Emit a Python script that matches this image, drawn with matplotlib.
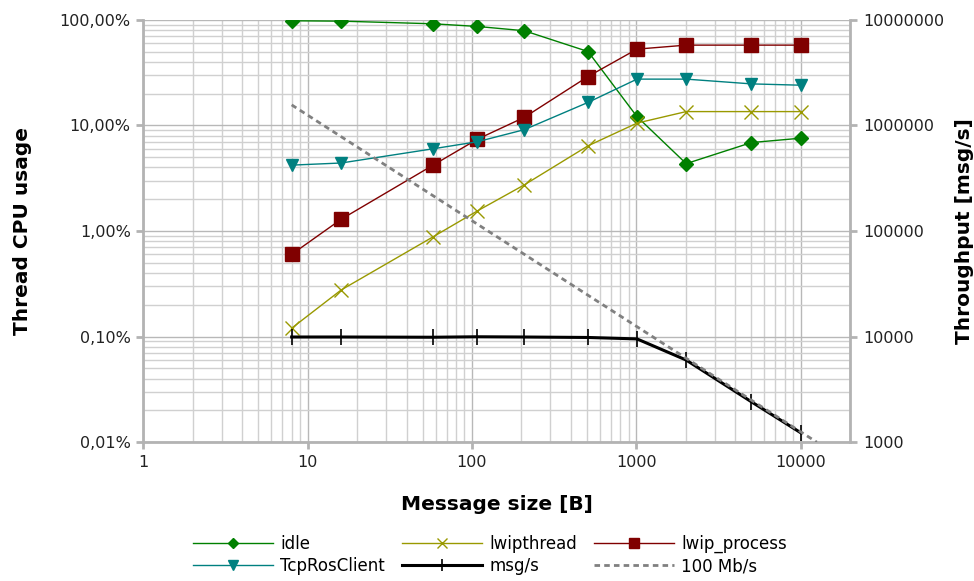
import matplotlib
matplotlib.use('Agg')
import matplotlib.pyplot as plt
from matplotlib.ticker import FuncFormatter, LogLocator, NullFormatter

# message size [B]
sizes = [8, 16, 58, 108, 208, 508, 1008, 2008, 5008, 10008]

# thread CPU usage [%]
idle = [97.8, 97.0, 91.6, 86.4, 78.7, 50.0, 12.1, 4.34, 6.87, 7.56]
lwipthread = [0.12, 0.276, 0.88, 1.55, 2.73, 6.4, 10.5, 13.5, 13.5, 13.5]
lwip_process = [0.60, 1.29, 4.2, 7.4, 11.9, 29.0, 52.7, 57.5, 57.5, 57.5]
tcp_ros_client = [4.2, 4.4, 6.0, 7.0, 9.1, 16.5, 27.4, 27.4, 24.7, 24.0]

# throughput [msg/s]
msgs = [9900, 9900, 9850, 9950, 9900, 9800, 9500, 5990, 2410, 1225]
limit_x = [8, 12500]
limit_y = [1562500, 1000]

GRID_MAJOR = '#b8b8b8'
GRID_MINOR = '#d0d0d0'
SPINE = '#b3b3b3'


def pct(v, pos):
    return ('%.2f%%' % v).replace('.', ',')


def main():
    plt.rcParams['font.family'] = 'DejaVu Sans'
    fig = plt.figure(figsize=(9.74, 5.81), dpi=100)
    ax = fig.add_axes([0.147, 0.239, 0.726, 0.727])
    ax2 = ax.twinx()

    ax.set_xscale('log')
    ax.set_yscale('log')
    ax2.set_yscale('log')
    ax.set_xlim(1, 20000)
    ax.set_ylim(0.01, 100)
    ax2.set_ylim(1000, 10000000)

    ax.xaxis.set_major_locator(LogLocator(base=10, numticks=10))
    ax.xaxis.set_minor_locator(LogLocator(base=10, subs=range(2, 10), numticks=20))
    ax.xaxis.set_major_formatter(FuncFormatter(lambda v, p: '%d' % v))
    ax.xaxis.set_minor_formatter(NullFormatter())
    ax.yaxis.set_major_locator(LogLocator(base=10, numticks=10))
    ax.yaxis.set_minor_locator(LogLocator(base=10, subs=range(2, 10), numticks=20))
    ax.yaxis.set_major_formatter(FuncFormatter(pct))
    ax.yaxis.set_minor_formatter(NullFormatter())
    ax2.yaxis.set_major_locator(LogLocator(base=10, numticks=10))
    ax2.yaxis.set_minor_locator(LogLocator(base=10, subs=range(2, 10), numticks=20))
    ax2.yaxis.set_major_formatter(FuncFormatter(lambda v, p: '%d' % v))
    ax2.yaxis.set_minor_formatter(NullFormatter())

    ax.grid(True, which='major', color=GRID_MAJOR, lw=1.0)
    ax.grid(True, which='minor', color=GRID_MINOR, lw=1.0)
    ax.set_axisbelow(True)

    for a in (ax, ax2):
        for s in a.spines.values():
            s.set_visible(False)
        a.tick_params(which='minor', length=0)
        a.tick_params(which='major', length=5, width=2, color=SPINE,
                      labelsize=11.5, labelcolor='#222222', pad=4)
    ax.spines['left'].set_visible(True)
    ax.spines['bottom'].set_visible(True)
    ax2.spines['right'].set_visible(True)
    for s in (ax.spines['left'], ax.spines['bottom'], ax2.spines['right']):
        s.set_color(SPINE)
        s.set_linewidth(2)

    l1, = ax.plot(sizes, idle, color='#008000', lw=1, marker='D', ms=7, label='idle')
    l2, = ax.plot(sizes, lwipthread, color='#999900', lw=1, marker='x', ms=10,
                  mew=1, label='lwipthread')
    l3, = ax.plot(sizes, lwip_process, color='#800000', lw=1, marker='s', ms=9.5,
                  label='lwip_process')
    l4, = ax.plot(sizes, tcp_ros_client, color='#008080', lw=1, marker='v', ms=9,
                  label='TcpRosClient')
    l5, = ax2.plot(sizes, msgs, color='black', lw=2.2, marker='|', ms=11, mew=1.2,
                   label='msg/s')
    l6, = ax2.plot(limit_x, limit_y, color='#808080', lw=2, ls=(0, (2, 1.5)),
                   label='100 Mb/s')

    ax.set_xlabel('Message size [B]', fontsize=14.5, fontweight='bold', labelpad=18)
    ax.set_ylabel('Thread CPU usage', fontsize=14.5, fontweight='bold', labelpad=20)
    ax2.set_ylabel('Throughput [msg/s]', fontsize=14.5, fontweight='bold', labelpad=8)

    handles = [l1, l4, l2, l5, l3, l6]
    leg = fig.legend(handles, [h.get_label() for h in handles], ncol=3, frameon=False,
                     loc='lower center', bbox_to_anchor=(0.503, -0.016), fontsize=12,
                     handlelength=4.8, columnspacing=1.0, labelspacing=0.25,
                     handletextpad=0.45)
    for h in leg.legend_handles:
        h.set_markersize(h.get_markersize() * 0.75)

    fig.savefig('out.png', dpi=100)


if __name__ == '__main__':
    main()
